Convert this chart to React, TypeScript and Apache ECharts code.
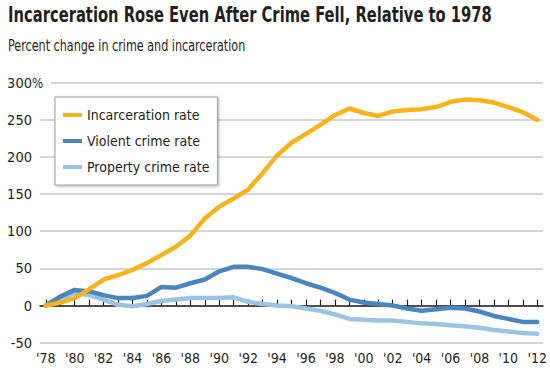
import React, { useEffect, useRef } from "react";
import * as echarts from "echarts";

const years = [1978, 1979, 1980, 1981, 1982, 1983, 1984, 1985, 1986, 1987, 1988, 1989, 1990, 1991, 1992, 1993, 1994, 1995, 1996, 1997, 1998, 1999, 2000, 2001, 2002, 2003, 2004, 2005, 2006, 2007, 2008, 2009, 2010, 2011, 2012];
const labelYears = [1978, 1980, 1982, 1984, 1986, 1988, 1990, 1992, 1994, 1996, 1998, 2000, 2002, 2004, 2006, 2008, 2010, 2012];
const incarceration = [0, 4, 10, 22, 35, 41, 48, 57, 68, 79, 94, 117, 133, 144, 156, 178, 202, 219, 231, 243, 256, 265, 259, 255, 261, 263, 264, 267, 274, 277, 276, 273, 267, 260, 250];
const violent = [0, 12, 21, 19, 14, 10, 10, 13, 25, 24, 30, 35, 46, 52, 52, 49, 43, 37, 30, 24, 17, 8, 4, 2, 0, -4, -7, -5, -3, -4, -8, -14, -18, -22, -22];
const property = [0, 8, 17, 14, 8, 1, -1, 2, 6, 8, 10, 10, 10, 11, 5, 2, 0, -1, -4, -7, -12, -18, -19, -20, -20, -22, -24, -25, -26.5, -28, -30, -33, -35, -37, -38];
const yTicks = [-50, 0, 50, 100, 150, 200, 250, 300];
const titleText = "Incarceration Rose Even After Crime Fell, Relative to 1978";
const subtitleText = "Percent change in crime and incarceration";

const FONT = "'DejaVu Sans Condensed', 'DejaVu Sans', sans-serif";
const TEXT = "#231f20";

export default function App() {
  const ref = useRef<HTMLDivElement>(null);
  useEffect(() => {
    if (!ref.current) return;
    const chart = echarts.init(ref.current, null, { renderer: "svg" });
    const pair = (arr: number[]) => years.map((y, i) => [y, arr[i]]);
    const xCommon = {
      type: "value" as const,
      min: 1977.6,
      max: 2012.4,
      splitLine: { show: false },
    };
    chart.setOption({
      animation: false,
      backgroundColor: "#fff",
      textStyle: { fontFamily: FONT },
      grid: { left: 40, right: 6, top: 82.5, bottom: 28.3 },
      legend: {
        orient: "vertical",
        left: 55,
        top: 97,
        padding: [9, 8, 9, 8],
        itemGap: 8,
        itemWidth: 19,
        itemHeight: 4,
        icon: "rect",
        backgroundColor: "#fff",
        borderColor: "#a0a0a0",
        borderWidth: 1,
        shadowBlur: 3,
        shadowColor: "rgba(0,0,0,0.3)",
        shadowOffsetX: 1,
        shadowOffsetY: 1,
        textStyle: { fontFamily: FONT, fontSize: 14, color: TEXT, lineHeight: 18 },
        data: ["Incarceration rate", "Violent crime rate", "Property crime rate"],
      },
      xAxis: [
        {
          ...xCommon,
          position: "bottom",
          axisLine: { show: false, onZero: false },
          axisTick: { show: false },
          axisLabel: {
            customValues: labelYears,
            formatter: (v: number) => "'" + String(v).slice(2),
            fontFamily: FONT,
            fontSize: 14,
            color: TEXT,
            margin: 8,
          },
        },
        {
          ...xCommon,
          position: "bottom",
          axisLine: { show: true, onZero: true, lineStyle: { color: "#231f20", width: 1.5 } },
          axisTick: {
            show: true,
            inside: true,
            length: 6,
            customValues: years,
            lineStyle: { color: "#231f20", width: 1.2 },
          },
          axisLabel: { show: false },
        },
      ],
      yAxis: {
        type: "value",
        min: -50,
        max: 300,
        interval: 50,
        axisLine: { show: false },
        axisTick: { show: false },
        splitLine: { show: true, lineStyle: { color: "#c8c8c8", width: 1.5 } },
        axisLabel: {
          customValues: yTicks,
          fontFamily: FONT,
          fontSize: 14.5,
          color: TEXT,
          margin: 8,
          align: "right",
        },
      },
      graphic: [
        {
          type: "text",
          x: 8,
          y: 15,
          scaleX: 0.78,
          style: {
            text: titleText,
            font: `bold 21px ${FONT}`,
            fill: TEXT,
            verticalAlign: "middle",
          },
        },
        {
          type: "text",
          x: 8,
          y: 46,
          scaleX: 0.83,
          style: {
            text: subtitleText,
            font: `15px ${FONT}`,
            fill: TEXT,
            verticalAlign: "middle",
          },
        },
        {
          type: "rect",
          shape: { x: 33, y: 78, width: 18, height: 9 },
          style: { fill: "#fff" },
          z: 10,
        },
        {
          type: "text",
          x: 32,
          y: 82.5,
          scaleX: 0.9,
          z: 11,
          style: { text: "%", font: `14.5px ${FONT}`, fill: TEXT, verticalAlign: "middle" },
        },
      ],
      series: [
        {
          name: "Property crime rate",
          type: "line",
          xAxisIndex: 0,
          data: pair(property),
          symbol: "none",
          lineStyle: { color: "#9dc3e2", width: 4.5, cap: "round", join: "round" },
          itemStyle: { color: "#9dc3e2" },
          z: 3,
        },
        {
          name: "Violent crime rate",
          type: "line",
          xAxisIndex: 0,
          data: pair(violent),
          symbol: "none",
          lineStyle: { color: "#4a86bd", width: 4.5, cap: "round", join: "round" },
          itemStyle: { color: "#4a86bd" },
          z: 4,
        },
        {
          name: "Incarceration rate",
          type: "line",
          xAxisIndex: 0,
          data: pair(incarceration),
          symbol: "none",
          lineStyle: { color: "#f6b41c", width: 4.5, cap: "round", join: "round" },
          itemStyle: { color: "#f6b41c" },
          z: 5,
        },
      ],
    });
    return () => chart.dispose();
  }, []);
  return (
    <div
      ref={ref}
      style={{ position: "fixed", left: 0, top: 0, width: 550, height: 371 }}
    />
  );
}
